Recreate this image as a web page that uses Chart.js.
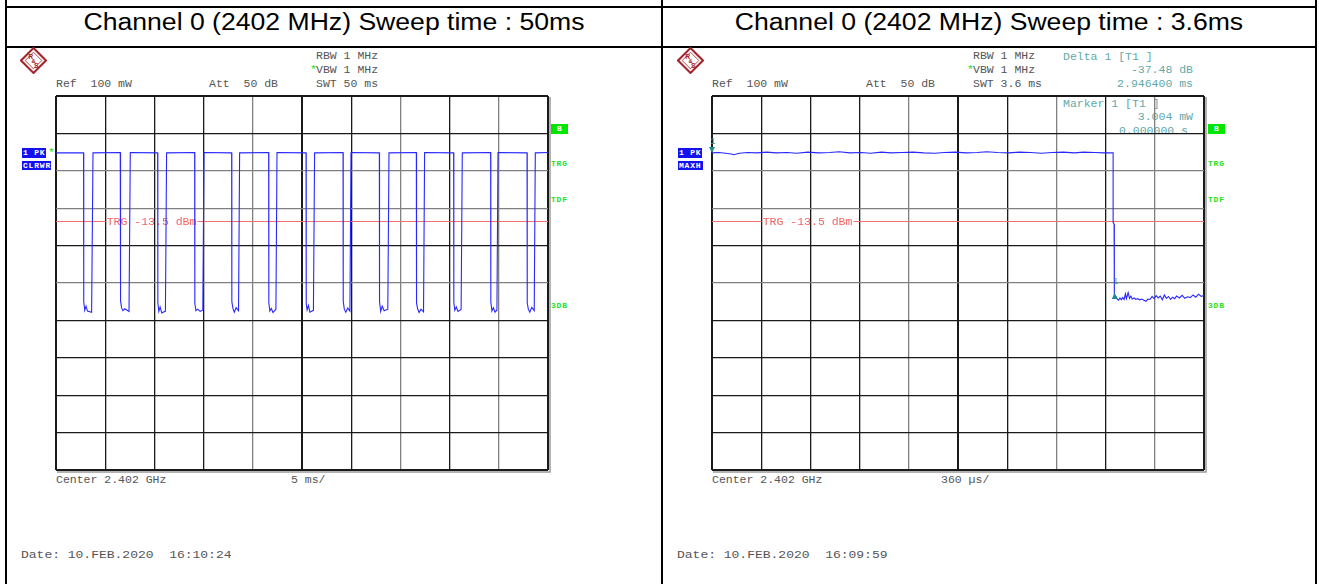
<!DOCTYPE html>
<html>
<head>
<meta charset="utf-8">
<script src="https://cdn.jsdelivr.net/npm/chart.js@4.4.1/dist/chart.umd.min.js"></script>
<style>
  html, body { margin: 0; padding: 0; background: #fff; }
  #page { position: relative; width: 1319px; height: 584px; overflow: hidden; background: #fff; }
  .rule { position: absolute; background: #000; }
  .title { position: absolute; top: 10.5px; height: 23px; font: 23px "Liberation Sans", Arial, sans-serif; line-height: 23px;
           text-align: center; white-space: nowrap; color: #000; transform: scaleX(1.156); transform-origin: 50% 0; }
  .t { position: absolute; font: 10px "Liberation Mono", monospace; line-height: 10px; color: #555; white-space: pre;
       transform: scaleX(1.15); transform-origin: 0 0; }
  .t.r { transform-origin: 100% 0; }
  .mk { color: #62a9a9; }
  .star { color: #22dd22; }
  .date { font-size: 11.3px; line-height: 11px; }
  .box { position: absolute; background: #1212ee; color: #fff; font: bold 8px "Liberation Mono", monospace; letter-spacing: 0.8px;
         padding-left: 1px; box-sizing: border-box; white-space: pre; }
  .gbox { position: absolute; background: #00e600; color: #fff; font: bold 8px "Liberation Mono", monospace; text-align: center;
          width: 17px; height: 10px; line-height: 10px; }
  .side { position: absolute; color: #22e022; font: bold 8px "Liberation Mono", monospace; line-height: 8px; letter-spacing: 0.8px; }
  .logo { position: absolute; width: 27px; height: 27px; }
  canvas { position: absolute; }
</style>
</head>
<body>
<div id="page">
  <div class="rule" style="left:5px;top:6px;width:1312px;height:2px"></div>
  <div class="rule" style="left:5px;top:46px;width:1312px;height:2px"></div>
  <div class="rule" style="left:5px;top:0;width:2px;height:584px"></div>
  <div class="rule" style="left:661px;top:0;width:2px;height:584px"></div>
  <div class="rule" style="left:1315px;top:0;width:2px;height:584px"></div>

  <div class="title" style="left:7px;width:654px">Channel 0 (2402 MHz) Sweep time : 50ms</div>
  <div class="title" style="left:663px;width:652px">Channel 0 (2402 MHz) Sweep time : 3.6ms</div>

  <!-- left screen -->
  <svg class="logo" style="left:20px;top:47px" viewBox="0 0 26 26">
    <polygon points="13,1 25,13 13,25 1,13" fill="none" stroke="#a3242a" stroke-width="2"/>
    <polygon points="13,5 21,13 13,21 5,13" fill="none" stroke="#a3242a" stroke-width="0.8"/>
    <text x="8" y="11.5" font-size="6.5" font-weight="bold" font-family="Liberation Sans" fill="#a3242a">R</text>
    <text x="11" y="15.5" font-size="5.5" font-weight="bold" font-family="Liberation Sans" fill="#a3242a">&amp;</text>
    <text x="13.5" y="20" font-size="6.5" font-weight="bold" font-family="Liberation Sans" fill="#a3242a">S</text>
  </svg>
  <div class="t" style="left:316px;top:52px">RBW 1 MHz</div>
  <div class="t star" style="left:310px;top:66px">*</div>
  <div class="t" style="left:316px;top:66px">VBW 1 MHz</div>
  <div class="t" style="left:56px;top:80px">Ref  100 mW</div>
  <div class="t" style="left:209px;top:80px">Att  50 dB</div>
  <div class="t" style="left:316px;top:80px">SWT 50 ms</div>
  <div class="box" style="left:22px;top:148px;width:24px;height:10px;line-height:10px">1 PK</div>
  <div class="t star" style="left:48px;top:149px">*</div>
  <div class="box" style="left:22px;top:161px;width:29px;height:9px;line-height:9px">CLRWR</div>
  <div class="gbox" style="left:551px;top:124px">B</div>
  <div class="side" style="left:551px;top:160px">TRG</div>
  <div class="side" style="left:551px;top:195.5px">TDF</div>
  <div class="side" style="left:551px;top:301.5px">3DB</div>
  <div class="t" style="left:56px;top:476px">Center 2.402 GHz</div>
  <div class="t" style="left:291px;top:476px">5 ms/</div>
  <div class="t date" style="left:21px;top:549.5px">Date: 10.FEB.2020  16:10:24</div>
  <canvas id="scope50" width="498" height="380" style="left:53px;top:93px"></canvas>

  <!-- right screen -->
  <svg class="logo" style="left:677px;top:47px" viewBox="0 0 26 26">
    <polygon points="13,1 25,13 13,25 1,13" fill="none" stroke="#a3242a" stroke-width="2"/>
    <polygon points="13,5 21,13 13,21 5,13" fill="none" stroke="#a3242a" stroke-width="0.8"/>
    <text x="8" y="11.5" font-size="6.5" font-weight="bold" font-family="Liberation Sans" fill="#a3242a">R</text>
    <text x="11" y="15.5" font-size="5.5" font-weight="bold" font-family="Liberation Sans" fill="#a3242a">&amp;</text>
    <text x="13.5" y="20" font-size="6.5" font-weight="bold" font-family="Liberation Sans" fill="#a3242a">S</text>
  </svg>
  <div class="t" style="left:973px;top:52px">RBW 1 MHz</div>
  <div class="t star" style="left:967px;top:66px">*</div>
  <div class="t" style="left:973px;top:66px">VBW 1 MHz</div>
  <div class="t" style="left:712px;top:80px">Ref  100 mW</div>
  <div class="t" style="left:866px;top:80px">Att  50 dB</div>
  <div class="t" style="left:973px;top:80px">SWT 3.6 ms</div>
  <div class="t mk" style="left:1063px;top:52.5px">Delta 1 [T1 ]</div>
  <div class="t mk r" style="right:126px;top:65.5px">-37.48 dB</div>
  <div class="t mk r" style="right:126px;top:80px">2.946400 ms</div>
  <div class="t mk" style="left:1063px;top:100px">Marker 1 [T1 ]</div>
  <div class="t mk r" style="right:126px;top:112.5px">3.004 mW</div>
  <div class="t mk" style="left:1119px;top:127px">0.000000 s</div>
  <div class="box" style="left:678px;top:148px;width:24px;height:10px;line-height:10px">1 PK</div>
  <div class="box" style="left:678px;top:161px;width:24.5px;height:9px;line-height:9px">MAXH</div>
  <div class="gbox" style="left:1208px;top:124px">B</div>
  <div class="side" style="left:1208px;top:160px">TRG</div>
  <div class="side" style="left:1208px;top:195.5px">TDF</div>
  <div class="side" style="left:1208px;top:301.5px">3DB</div>
  <div class="t" style="left:712px;top:476px">Center 2.402 GHz</div>
  <div class="t" style="left:941px;top:476px">360 µs/</div>
  <div class="t date" style="left:677px;top:549.5px">Date: 10.FEB.2020  16:09:59</div>
  <canvas id="scope36" width="498" height="380" style="left:709px;top:93px"></canvas>
</div>

<script>
// sweep 50 ms (time in ms, level in dBm) - one line per burst gap
const sweep50Time = [
  0,
  2.80, 2.82, 2.92, 3.05, 3.20, 3.62, 3.76,
  6.53, 6.56, 6.66, 6.80, 7.00, 7.42, 7.55,
  10.33, 10.35, 10.45, 10.58, 10.75, 11.12, 11.24,
  14.09, 14.11, 14.22, 14.40, 14.65, 14.92, 15.04,
  17.85, 17.87, 17.98, 18.12, 18.30, 18.55, 18.66,
  21.61, 21.63, 21.73, 21.88, 22.05, 22.35, 22.46,
  25.41, 25.43, 25.52, 25.65, 25.80, 26.16, 26.28,
  29.17, 29.19, 29.30, 29.45, 29.65, 29.87, 29.98,
  32.86, 32.88, 33.00, 33.15, 33.35, 33.72, 33.84,
  36.62, 36.64, 36.75, 36.90, 37.10, 37.35, 37.46,
  40.41, 40.43, 40.53, 40.68, 40.85, 41.17, 41.29,
  44.17, 44.19, 44.30, 44.45, 44.62, 44.81, 44.92,
  47.87, 47.89, 48.00, 48.15, 48.35, 48.60, 48.71,
  50
];
const sweep50Level = [
  4.8,
  4.8, -35.0, -37.3, -36.2, -37.5, -37.8, 4.8,
  4.9, -34.8, -36.6, -37.4, -36.9, -37.6, 4.9,
  4.8, -35.2, -37.6, -36.4, -38.0, -37.5, 4.8,
  4.9, -35.5, -37.4, -37.0, -37.6, -37.2, 4.9,
  4.8, -35.0, -36.8, -37.8, -36.6, -37.4, 4.8,
  4.9, -35.3, -37.5, -36.8, -37.9, -37.0, 4.9,
  4.8, -35.6, -37.2, -36.0, -37.8, -37.3, 4.8,
  4.9, -34.9, -37.0, -37.8, -36.7, -37.5, 4.9,
  4.8, -35.0, -37.6, -36.2, -37.4, -37.0, 4.8,
  4.9, -35.4, -36.9, -37.9, -37.0, -37.7, 4.9,
  4.8, -35.2, -37.3, -36.4, -37.6, -37.1, 4.8,
  4.9, -35.1, -37.5, -36.6, -37.8, -37.2, 4.9,
  4.8, -35.3, -37.0, -37.8, -36.5, -37.4, 4.8,
  4.9
];

// sweep 3.6 ms (time in ms, level in dBm)
const sweep36Time = [
  0, 0.05, 0.10, 0.14, 0.16, 0.20, 0.26, 0.33, 0.40, 0.47,
  0.55, 0.62, 0.70, 0.78, 0.86, 0.93, 1.01, 1.09, 1.16, 1.24,
  1.31, 1.39, 1.47, 1.55, 1.63, 1.70, 1.78, 1.86, 1.94, 2.01,
  2.09, 2.17, 2.25, 2.33, 2.41, 2.49, 2.57, 2.65, 2.72, 2.80,
  2.87, 2.935, 2.935, 2.942, 2.942, 2.946,
  2.955, 2.965, 2.975, 2.985, 2.995, 3.005, 3.015, 3.025, 3.032, 3.045,
  3.055, 3.065, 3.075, 3.09, 3.10, 3.115, 3.13, 3.145, 3.16, 3.175,
  3.19, 3.205, 3.22, 3.235, 3.25, 3.265, 3.28, 3.295, 3.31, 3.325,
  3.34, 3.355, 3.37, 3.385, 3.40, 3.42, 3.44, 3.46, 3.48, 3.50,
  3.52, 3.54, 3.56, 3.58, 3.60
];
const sweep36Level = [
  4.8, 4.9, 4.7, 4.5, 4.3, 4.7, 4.9, 4.8, 5.0, 4.8,
  4.9, 4.7, 5.0, 4.8, 4.9, 5.1, 4.8, 4.9, 4.7, 5.0,
  4.8, 4.9, 5.0, 4.8, 4.7, 4.9, 5.0, 4.8, 4.9, 5.1,
  4.9, 4.8, 5.0, 4.9, 4.7, 4.9, 5.0, 4.8, 5.0, 4.9,
  4.8, 4.8, -13.8, -14.2, -33.0, -33.3,
  -33.6, -34.3, -34.6, -34.0, -34.5, -33.9, -34.4, -32.9, -34.2, -32.6,
  -34.1, -33.5, -34.3, -34.0, -34.4, -34.2, -34.5, -34.3, -34.6, -34.9,
  -34.3, -34.4, -33.6, -34.2, -33.4, -34.0, -33.5, -34.5, -33.2, -34.1,
  -33.6, -34.4, -33.8, -34.2, -33.5, -34.0, -33.3, -34.1, -33.7, -33.9,
  -33.2, -33.8, -33.0, -33.6, -33.3
];

// markers on the 3.6 ms sweep: marker 1 at 0 s / 3.004 mW, delta 1 at +2.9464 ms / -37.48 dB
const markerTime = [0, 2.9464];
const markerLevel = [4.78, -32.70];
const markerDir = ['down', 'up'];

const trgLevel = -13.5;   // dBm
const refLevel = 20;      // 100 mW
const bottomLevel = -80;  // 10 dB/div

const ink = '#1a1a1a', gray = '#808080';
const vColors = [ink, ink, ink, ink, gray, ink, ink, gray, ink, gray, ink];
const vWidths = [2, 1.3, 1.3, 1.3, 1.3, 2, 1.3, 1.3, 1.3, 1.3, 2];
const hColors = [ink, ink, ink, ink, ink, gray, ink, gray, gray, ink, ink];
const hWidths = [2, 1.3, 1.3, 1.3, 1.3, 1.3, 1.3, 1.3, 1.3, 1.3, 2];

const scopeOverlay = {
  id: 'scopeOverlay',
  beforeDatasetsDraw(chart, args, opts) {
    const { ctx, chartArea: a, scales } = chart;
    const yy = Math.round(scales.y.getPixelForValue(opts.trgLevel)) + 0.5;
    const tx = scales.x.getPixelForValue(opts.trgLabelAt) + 1.5;
    ctx.save();
    ctx.font = '10px "Liberation Mono"';
    const tw = ctx.measureText(opts.trgText).width * 1.15;
    ctx.strokeStyle = 'rgb(242,112,112)';
    ctx.lineWidth = 1.2;
    ctx.beginPath();
    ctx.moveTo(a.left, yy); ctx.lineTo(tx - 1, yy);
    ctx.moveTo(tx + tw + 1, yy); ctx.lineTo(a.right, yy);
    ctx.stroke();
    ctx.fillStyle = 'rgb(240,100,100)';
    ctx.textBaseline = 'middle';
    ctx.translate(tx, yy + 0.5);
    ctx.scale(1.15, 1);
    ctx.fillText(opts.trgText, 0, 0);
    ctx.restore();
  },
  afterDatasetsDraw(chart, args, opts) {
    const { ctx, chartArea: a, scales } = chart;
    ctx.save();
    // grey shadow of the screen frame
    ctx.strokeStyle = '#9a9a9a';
    ctx.lineWidth = 1.5;
    ctx.beginPath();
    ctx.moveTo(a.right + 2, a.top + 1); ctx.lineTo(a.right + 2, a.bottom + 2); ctx.lineTo(a.left + 1, a.bottom + 2);
    ctx.stroke();
    (opts.markers ? markerTime : []).forEach((t, i) => {
      const px = scales.x.getPixelForValue(t);
      const py = scales.y.getPixelForValue(markerLevel[i]);
      const dir = markerDir[i] === 'down' ? -1 : 1;
      ctx.fillStyle = '#1f8c8c';
      ctx.beginPath();
      ctx.moveTo(px, py); ctx.lineTo(px - 3, py + dir * 6); ctx.lineTo(px + 3, py + dir * 6);
      ctx.closePath(); ctx.fill();
      ctx.font = '9px "Liberation Mono"';
      ctx.textAlign = 'center';
      ctx.textBaseline = 'middle';
      ctx.fillStyle = '#3f9f9f';
      ctx.fillText('1', px + 1, py - 11.5);
    });
    ctx.restore();
  }
};

function scopeChart(id, times, levels, xMax, overlay) {
  const points = times.map((t, i) => ({ x: t, y: levels[i] }));
  new Chart(document.getElementById(id), {
    type: 'line',
    data: {
      datasets: [{
        data: points,
        borderColor: 'rgb(40,40,255)',
        borderWidth: 1.1,
        pointRadius: 0,
        tension: 0,
        fill: false
      }]
    },
    options: {
      responsive: false,
      animation: false,
      events: [],
      layout: { padding: 3 },
      plugins: {
        legend: { display: false },
        tooltip: { enabled: false },
        title: { display: false },
        scopeOverlay: overlay
      },
      scales: {
        x: {
          type: 'linear', min: 0, max: xMax,
          ticks: { display: false, count: 11 },
          border: { display: false },
          grid: { drawTicks: false, color: (c) => vColors[c.index], lineWidth: (c) => vWidths[c.index] }
        },
        y: {
          type: 'linear', min: bottomLevel, max: refLevel,
          ticks: { display: false, count: 11 },
          border: { display: false },
          grid: { drawTicks: false, color: (c) => hColors[c.index], lineWidth: (c) => hWidths[c.index] }
        }
      }
    },
    plugins: [scopeOverlay]
  });
}

scopeChart('scope50', sweep50Time, sweep50Level, 50,
  { trgLevel: trgLevel, trgLabelAt: 5, trgText: 'TRG -13.5 dBm', markers: false });
scopeChart('scope36', sweep36Time, sweep36Level, 3.6,
  { trgLevel: trgLevel, trgLabelAt: 0.36, trgText: 'TRG -13.5 dBm', markers: true });
</script>
</body>
</html>
